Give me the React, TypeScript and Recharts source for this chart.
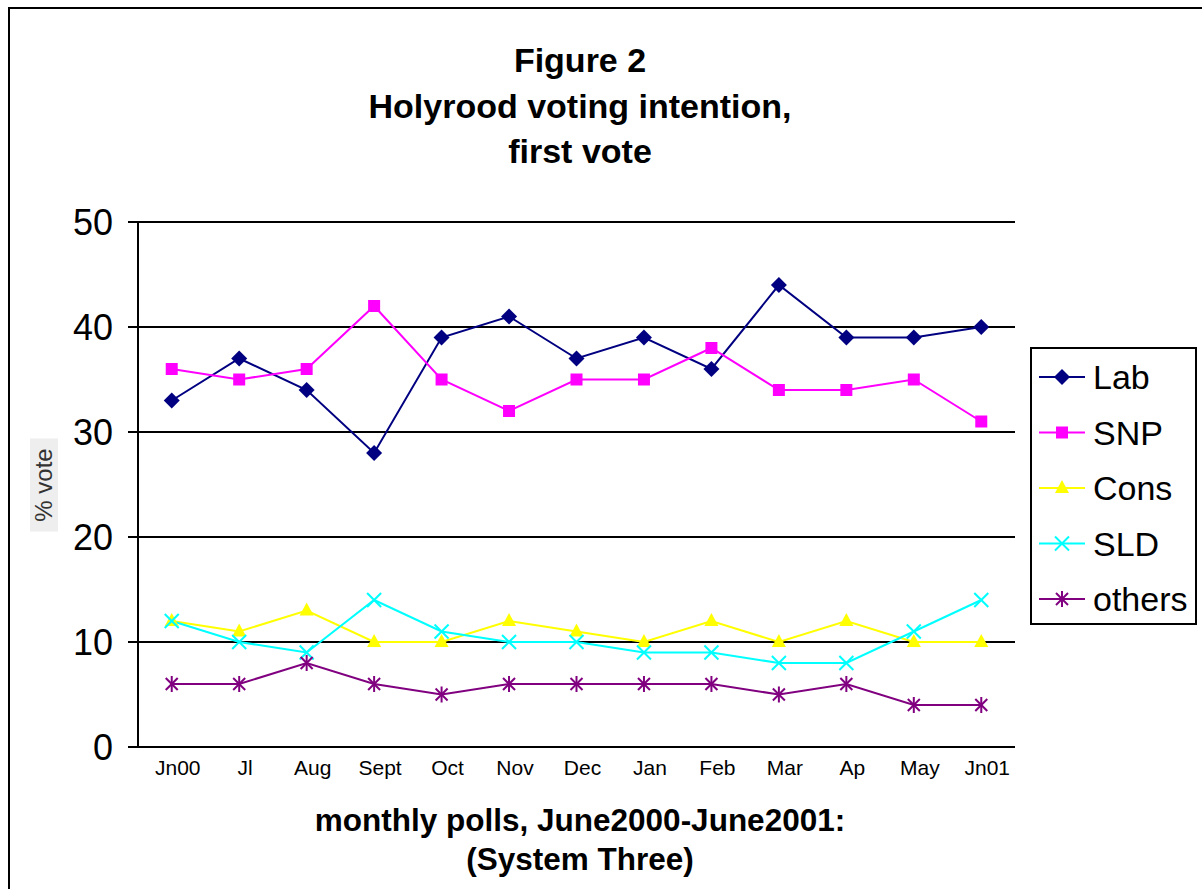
import React from "react";
import { LineChart, Line, XAxis, YAxis, CartesianGrid, Legend } from "recharts";

const months = ["Jn00", "Jl", "Aug", "Sept", "Oct", "Nov", "Dec", "Jan", "Feb", "Mar", "Ap", "May", "Jn01"];
const lab = [33, 37, 34, 28, 39, 41, 37, 39, 36, 44, 39, 39, 40];
const snp = [36, 35, 36, 42, 35, 32, 35, 35, 38, 34, 34, 35, 31];
const cons = [12, 11, 13, 10, 10, 12, 11, 10, 12, 10, 12, 10, 10];
const sld = [12, 10, 9, 14, 11, 10, 10, 9, 9, 8, 8, 11, 14];
const others = [6, 6, 8, 6, 5, 6, 6, 6, 6, 5, 6, 4, 4];
const yTicks = [0, 10, 20, 30, 40, 50];

const data = months.map((m, i) => ({
  month: m,
  Lab: lab[i],
  SNP: snp[i],
  Cons: cons[i],
  SLD: sld[i],
  others: others[i],
}));

const FONT = '"Liberation Sans", Arial, sans-serif';

type Shape = "diamond" | "square" | "triangle" | "x" | "star";

const seriesDefs: { key: string; color: string; shape: Shape }[] = [
  { key: "Lab", color: "#000080", shape: "diamond" },
  { key: "SNP", color: "#FF00FF", shape: "square" },
  { key: "Cons", color: "#FFFF00", shape: "triangle" },
  { key: "SLD", color: "#00FFFF", shape: "x" },
  { key: "others", color: "#800080", shape: "star" },
];

function Marker({ cx, cy, color, shape }: { cx: number; cy: number; color: string; shape: Shape }) {
  if (cx == null || cy == null || isNaN(cx) || isNaN(cy)) return null;
  switch (shape) {
    case "diamond":
      return <polygon points={`${cx},${cy - 8} ${cx + 8},${cy} ${cx},${cy + 8} ${cx - 8},${cy}`} fill={color} />;
    case "square":
      return <rect x={cx - 6} y={cy - 6} width={12} height={12} fill={color} />;
    case "triangle":
      return <polygon points={`${cx},${cy - 8} ${cx + 7},${cy + 5} ${cx - 7},${cy + 5}`} fill={color} />;
    case "x":
      return (
        <g stroke={color} strokeWidth={2}>
          <line x1={cx - 7} y1={cy - 7} x2={cx + 7} y2={cy + 7} />
          <line x1={cx - 7} y1={cy + 7} x2={cx + 7} y2={cy - 7} />
        </g>
      );
    case "star":
      return (
        <g stroke={color} strokeWidth={2}>
          <line x1={cx - 6} y1={cy - 6} x2={cx + 6} y2={cy + 6} />
          <line x1={cx - 6} y1={cy + 6} x2={cx + 6} y2={cy - 6} />
          <line x1={cx} y1={cy - 8} x2={cx} y2={cy + 8} />
        </g>
      );
  }
  return null;
}

const makeDot = (color: string, shape: Shape) => (props: any) => (
  <Marker key={`${props.dataKey}-${props.index}`} cx={props.cx} cy={props.cy} color={color} shape={shape} />
);

const XTick = (props: any) => {
  const { x, y, payload } = props;
  return (
    <text x={x + 6} y={y} dy={20} textAnchor="middle" fontSize={21} fill="#000" fontFamily={FONT}>
      {payload.value}
    </text>
  );
};

const LegendContent = () => (
  <svg width={167} height={278} style={{ display: "block" }}>
    <rect x={1} y={1} width={165} height={276} fill="#fff" stroke="#000" strokeWidth={2} />
    {seriesDefs.map((s, i) => {
      const cy = 30 + i * 55.5;
      return (
        <g key={s.key}>
          <line x1={9} y1={cy} x2={55} y2={cy} stroke={s.color} strokeWidth={2} />
          <Marker cx={32} cy={cy} color={s.color} shape={s.shape} />
          <text x={63} y={cy} dy="0.36em" fontSize={34} fill="#000" fontFamily={FONT}>
            {s.key}
          </text>
        </g>
      );
    })}
  </svg>
);

export default function App() {
  return (
    <div
      style={{
        position: "fixed",
        left: 0,
        top: 0,
        width: 1202,
        height: 889,
        overflow: "hidden",
        background: "#fff",
        fontFamily: FONT,
      }}
    >
      <div
        style={{
          position: "absolute",
          left: 8,
          top: 7,
          width: 1400,
          height: 1100,
          borderLeft: "2px solid #000",
          borderTop: "2px solid #000",
        }}
      />
      <div
        style={{
          position: "absolute",
          left: 280,
          top: 38,
          width: 600,
          textAlign: "center",
          fontSize: 34,
          fontWeight: "bold",
          lineHeight: "45.5px",
          color: "#000",
        }}
      >
        <div>Figure 2</div>
        <div>Holyrood voting intention,</div>
        <div>first vote</div>
      </div>
      <div style={{ position: "absolute", left: 0, top: 0 }}>
        <LineChart width={1202} height={889} data={data} margin={{ top: 222, right: 20, bottom: 0, left: 0 }}>
          <CartesianGrid horizontal vertical={false} stroke="#000" strokeWidth={2} />
          <XAxis
            dataKey="month"
            scale="band"
            height={142}
            tickLine={false}
            axisLine={{ stroke: "#000", strokeWidth: 2 }}
            tick={<XTick />}
            interval={0}
          />
          <YAxis
            domain={[0, 50]}
            ticks={yTicks}
            width={138}
            tickSize={10}
            tickMargin={15}
            axisLine={{ stroke: "#000", strokeWidth: 2 }}
            tickLine={{ stroke: "#000", strokeWidth: 2 }}
            tick={{ fontSize: 36, fill: "#000", fontFamily: FONT }}
          />
          <Legend
            layout="horizontal"
            verticalAlign="middle"
            align="right"
            content={<LegendContent />}
            wrapperStyle={{ position: "absolute", left: 1030, top: 347, width: 167, height: 278 }}
          />
          {seriesDefs.map((s) => (
            <Line
              key={s.key}
              type="linear"
              dataKey={s.key}
              stroke={s.color}
              strokeWidth={2}
              dot={makeDot(s.color, s.shape)}
              activeDot={false}
              isAnimationActive={false}
            />
          ))}
        </LineChart>
      </div>
      <div
        style={{
          position: "absolute",
          left: 44,
          top: 485,
          width: 0,
          height: 0,
        }}
      >
        <div
          style={{
            position: "absolute",
            left: 0,
            top: 0,
            width: 93,
            height: 28,
            lineHeight: "28px",
            textAlign: "center",
            transform: "translate(-50%, -50%) rotate(-90deg)",
            background: "#eeeeee",
            color: "#333",
            fontSize: 24,
            whiteSpace: "nowrap",
          }}
        >
          % vote
        </div>
      </div>
      <div
        style={{
          position: "absolute",
          left: 280,
          top: 801,
          width: 600,
          textAlign: "center",
          fontSize: 31.5,
          fontWeight: "bold",
          lineHeight: "39px",
          color: "#000",
        }}
      >
        <div>monthly polls, June2000-June2001:</div>
        <div>(System Three)</div>
      </div>
    </div>
  );
}
